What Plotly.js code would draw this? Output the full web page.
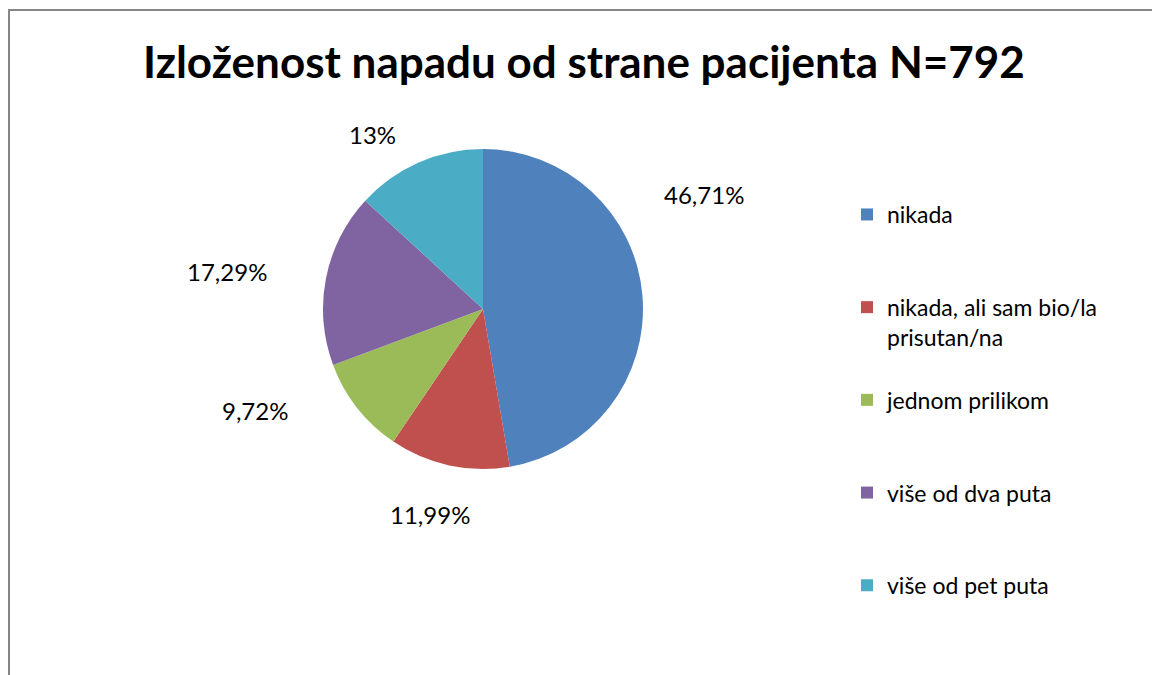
<!DOCTYPE html>
<html>
<head>
<meta charset="utf-8">
<script src="https://cdn.plot.ly/plotly-3.0.1.min.js"></script>
<style>
  html, body { margin: 0; padding: 0; background: #fff; }
  #wrap { position: relative; width: 1152px; height: 675px; overflow: hidden; }
  #chart { position: absolute; left: 0; top: 0; width: 1152px; height: 675px; }
  #frame { position: absolute; left: 8px; top: 9px; width: 1200px; height: 700px;
           border-left: 2px solid #868686; border-top: 2px solid #868686; pointer-events: none; }
</style>
</head>
<body>
<div id="wrap">
  <div id="chart"></div>
  <div id="frame"></div>
</div>
<script>
// Data
const categories = [
  "nikada",
  "nikada, ali sam bio/la<br>prisutan/na",
  "jednom prilikom",
  "više od dva puta",
  "više od pet puta"
];
const percents = [46.71, 11.99, 9.72, 17.29, 13];
const sliceColors = ["#4F81BD", "#C0504D", "#9BBB59", "#8064A2", "#4BACC6"];
const chartTitle = "Izloženost napadu od strane pacijenta N=792";

// Data labels formatted with a decimal comma, as in the reference
const valueLabels = percents.map(v => String(v).replace(".", ",") + "%");

// Layout only: where each data label sits (pixel centres, like manually placed labels)
const labelPlacement = [[704, 195], [430, 514], [255, 410], [227, 271], [372, 135]];

// Pad legend entries to equal height so entries are evenly spaced
const LEGEND_LINES = 3;
const legendLabels = categories.map(c => {
  const n = c.split("<br>").length;
  let s = c;
  for (let i = n; i < LEGEND_LINES; i++) s += "<br> ";
  return s;
});

const W = 1152, H = 675;
const FONT = "Lato, 'Open Sans', sans-serif";

const trace = {
  type: "pie",
  labels: legendLabels,
  values: percents,
  text: valueLabels,
  textinfo: "none",
  sort: false,
  direction: "clockwise",
  rotation: 0,
  marker: { colors: sliceColors, line: { width: 0 } },
  domain: { x: [323 / W, 643 / W], y: [(H - 469) / H, (H - 149) / H] },
  hoverinfo: "label+percent"
};

const annotations = valueLabels.map((t, i) => ({
  text: t,
  xref: "paper", yref: "paper",
  x: labelPlacement[i][0] / W,
  y: 1 - labelPlacement[i][1] / H,
  xanchor: "center", yanchor: "middle",
  showarrow: false,
  font: { family: FONT, size: 24, color: "#000" }
}));

const layout = {
  width: W,
  height: H,
  margin: { l: 0, r: 0, t: 0, b: 0 },
  paper_bgcolor: "#fff",
  title: {
    text: "<b>" + chartTitle + "</b>",
    font: { family: FONT, size: 44, color: "#000" },
    x: 584 / W,
    xanchor: "center",
    y: 1 - 63 / H,
    yanchor: "middle"
  },
  annotations: annotations,
  showlegend: true,
  legend: {
    x: 847 / W,
    xanchor: "left",
    y: 1 - 193 / H,
    yanchor: "top",
    valign: "top",
    font: { family: FONT, size: 23, color: "#000" },
    bgcolor: "rgba(0,0,0,0)",
    traceorder: "normal"
  }
};

Plotly.newPlot("chart", [trace], layout, { displayModeBar: false, staticPlot: true });
</script>
</body>
</html>
